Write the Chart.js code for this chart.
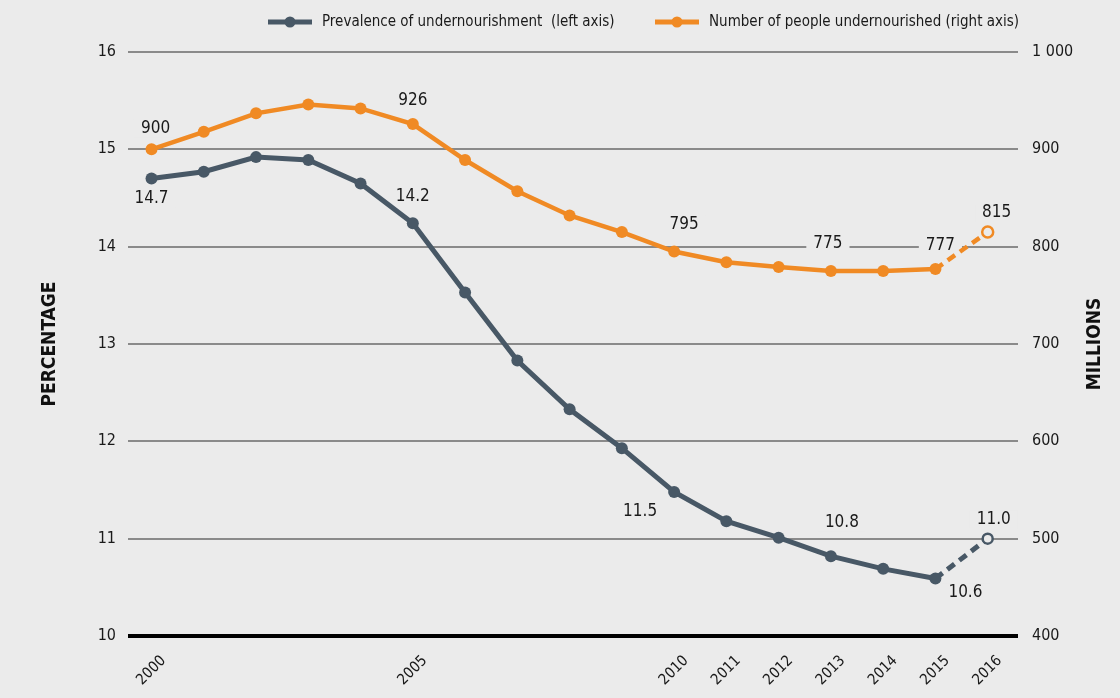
<!DOCTYPE html>
<html>
<head>
<meta charset="utf-8">
<script src="https://cdn.jsdelivr.net/npm/chart.js@4.4.1/dist/chart.umd.min.js"></script>
<style>
  html, body { margin: 0; padding: 0; background: #ebebeb; }
  #wrap { width: 1120px; height: 698px; }
</style>
</head>
<body>
<div id="wrap"><canvas id="chartCanvas" width="1120" height="698"></canvas></div>
<script>
const years = [2000, 2001, 2002, 2003, 2004, 2005, 2006, 2007, 2008, 2009, 2010, 2011, 2012, 2013, 2014, 2015, 2016];
const shownYears = [2000, 2005, 2010, 2011, 2012, 2013, 2014, 2015, 2016];

// prevalence of undernourishment, % (left axis)
const prevalence = [14.7, 14.77, 14.92, 14.89, 14.65, 14.24, 13.53, 12.83, 12.33, 11.93, 11.48, 11.18, 11.01, 10.82, 10.69, 10.59, 11.0];
const prevalenceLabels = ['14.7', null, null, null, null, '14.2', null, null, null, null, '11.5', null, null, '10.8', null, '10.6', '11.0'];

// number of undernourished people, millions (right axis)
const undernourished = [900, 918, 937, 946, 942, 926, 889, 857, 832, 815, 795, 784, 779, 775, 775, 777, 815];
const undernourishedLabels = ['900', null, null, null, null, '926', null, null, null, null, '795', null, null, '775', null, '777', '815'];

const leftTickLabels = ['10', '11', '12', '13', '14', '15', '16'];
const rightTickLabels = ['400', '500', '600', '700', '800', '900', '1 000'];

const BG = '#ebebeb';
const GREY = '#485866';
const ORANGE = '#f08a24';
const FONT = '"Liberation Sans Narrow", "DejaVu Sans Condensed", sans-serif';

// label offsets from the point (dx, dy), per dataset
const labelOffsets = [
  { 0: [0, 20], 5: [0, -27], 10: [-34, 20], 13: [11, -34], 15: [30, 14], 16: [6, -19] },
  { 0: [4, -21], 5: [0, -23], 10: [10, -27], 13: [-3, -27], 15: [5, -23], 16: [9, -19] },
];

const lastIdx = years.length - 1;

function pointColors(color) {
  return years.map((y, i) => (i === lastIdx ? BG : color));
}

const bgPlugin = {
  id: 'bgFill',
  beforeDraw(chart) {
    const ctx = chart.ctx;
    ctx.save();
    ctx.fillStyle = BG;
    ctx.fillRect(0, 0, chart.width, chart.height);
    ctx.restore();
  },
};

function eachLabel(chart, fn) {
  [prevalenceLabels, undernourishedLabels].forEach((labels, di) => {
    const meta = chart.getDatasetMeta(di);
    labels.forEach((text, i) => {
      if (!text) return;
      const pt = meta.data[i];
      const off = labelOffsets[di][i] || [0, -20];
      fn(text, pt.x + off[0], pt.y + off[1]);
    });
  });
}

const valueLabelPlugin = {
  id: 'valueLabels',
  beforeDatasetsDraw(chart) {
    const ctx = chart.ctx;
    ctx.save();
    ctx.font = '17px ' + FONT;
    ctx.fillStyle = BG;
    eachLabel(chart, (text, x, y) => {
      const w = ctx.measureText(text).width;
      ctx.fillRect(x - w / 2 - 7, y - 9, w + 14, 18);
    });
    ctx.restore();
  },
  afterDatasetsDraw(chart) {
    const ctx = chart.ctx;
    ctx.save();
    ctx.font = '17px ' + FONT;
    ctx.fillStyle = '#1a1a1a';
    ctx.textAlign = 'center';
    ctx.textBaseline = 'middle';
    eachLabel(chart, (text, x, y) => ctx.fillText(text, x, y));
    ctx.restore();
  },
};

const legendPlugin = {
  id: 'topLegend',
  afterDraw(chart) {
    const ctx = chart.ctx;
    const items = [
      { x: 268, color: GREY, text: 'Prevalence of undernourishment  (left axis)' },
      { x: 655, color: ORANGE, text: 'Number of people undernourished (right axis)' },
    ];
    ctx.save();
    ctx.font = '15px ' + FONT;
    ctx.textBaseline = 'middle';
    items.forEach((it) => {
      ctx.strokeStyle = it.color;
      ctx.lineWidth = 5;
      ctx.beginPath();
      ctx.moveTo(it.x, 22);
      ctx.lineTo(it.x + 44, 22);
      ctx.stroke();
      ctx.fillStyle = it.color;
      ctx.beginPath();
      ctx.arc(it.x + 22, 22, 5.5, 0, Math.PI * 2);
      ctx.fill();
      ctx.fillStyle = '#1a1a1a';
      ctx.fillText(it.text, it.x + 54, 22);
    });

    // right axis title, reading bottom to top like the left one
    const area = chart.chartArea;
    ctx.translate(1095, (area.top + area.bottom) / 2);
    ctx.rotate(-Math.PI / 2);
    ctx.font = 'bold 19px ' + FONT;
    ctx.textAlign = 'center';
    ctx.fillStyle = '#111';
    ctx.fillText('MILLIONS', 0, 0);
    ctx.restore();
  },
};

function initializeChart() {
  const ctx = document.getElementById('chartCanvas').getContext('2d');
  new Chart(ctx, {
    type: 'line',
    data: {
      datasets: [
        {
          label: 'Prevalence of undernourishment (left axis)',
          data: years.map((y, i) => ({ x: y, y: prevalence[i] })),
          yAxisID: 'yLeft',
          borderColor: GREY,
          borderWidth: 5,
          pointRadius: years.map((y, i) => (i === lastIdx ? 5 : 6)),
          pointBackgroundColor: pointColors(GREY),
          pointBorderColor: GREY,
          pointBorderWidth: years.map((y, i) => (i === lastIdx ? 2.5 : 0)),
          tension: 0,
          segment: {
            borderDash: (c) => (c.p1DataIndex === lastIdx ? [9, 6] : undefined),
          },
        },
        {
          label: 'Number of people undernourished (right axis)',
          data: years.map((y, i) => ({ x: y, y: undernourished[i] })),
          yAxisID: 'yRight',
          borderColor: ORANGE,
          borderWidth: 4.5,
          pointRadius: years.map((y, i) => (i === lastIdx ? 5.5 : 6)),
          pointBackgroundColor: pointColors(ORANGE),
          pointBorderColor: ORANGE,
          pointBorderWidth: years.map((y, i) => (i === lastIdx ? 2.5 : 0)),
          tension: 0,
          segment: {
            borderDash: (c) => (c.p1DataIndex === lastIdx ? [9, 6] : undefined),
          },
        },
      ],
    },
    options: {
      responsive: false,
      animation: false,
      layout: { padding: { left: 37, top: 52, right: 0, bottom: 0 } },
      plugins: {
        legend: { display: false },
        tooltip: { enabled: false },
      },
      scales: {
        x: {
          type: 'linear',
          min: 1999.55,
          max: 2016.58,
          grid: { display: false },
          border: { display: false },
          afterFit: (scale) => { scale.height = 62; },
          // one tick per year, only some of them labelled
          afterBuildTicks: (scale) => { scale.ticks = years.map((y) => ({ value: y })); },
          ticks: {
            autoSkip: false,
            maxRotation: 45,
            minRotation: 45,
            padding: 8,
            labelOffset: 12,
            color: '#1a1a1a',
            font: { family: FONT, size: 15 },
            callback: (v) => (shownYears.includes(v) ? String(v) : ''),
          },
        },
        yLeft: {
          position: 'left',
          min: 10,
          max: 16,
          afterFit: (scale) => { scale.width = 91; },
          border: { display: false },
          grid: {
            drawTicks: false,
            color: (c) => (c.tick && c.tick.value === 10 ? '#000' : '#8a8a8a'),
            lineWidth: (c) => (c.tick && c.tick.value === 10 ? 4 : 2),
          },
          ticks: {
            stepSize: 1,
            padding: 12,
            color: '#1a1a1a',
            font: { family: FONT, size: 16 },
            callback: (v, i) => leftTickLabels[i],
          },
          title: {
            display: true,
            text: 'PERCENTAGE',
            color: '#111',
            padding: { top: 2, bottom: 0 },
            font: { family: FONT, size: 19, weight: 'bold' },
          },
        },
        yRight: {
          position: 'right',
          min: 400,
          max: 1000,
          afterFit: (scale) => { scale.width = 102; },
          border: { display: false },
          grid: { display: false, drawTicks: false },
          ticks: {
            stepSize: 100,
            padding: 14,
            color: '#1a1a1a',
            font: { family: FONT, size: 16 },
            callback: (v, i) => rightTickLabels[i],
          },
        },
      },
    },
    plugins: [bgPlugin, valueLabelPlugin, legendPlugin],
  });
}

document.addEventListener('DOMContentLoaded', function () {
  initializeChart();
});
</script>
</body>
</html>
